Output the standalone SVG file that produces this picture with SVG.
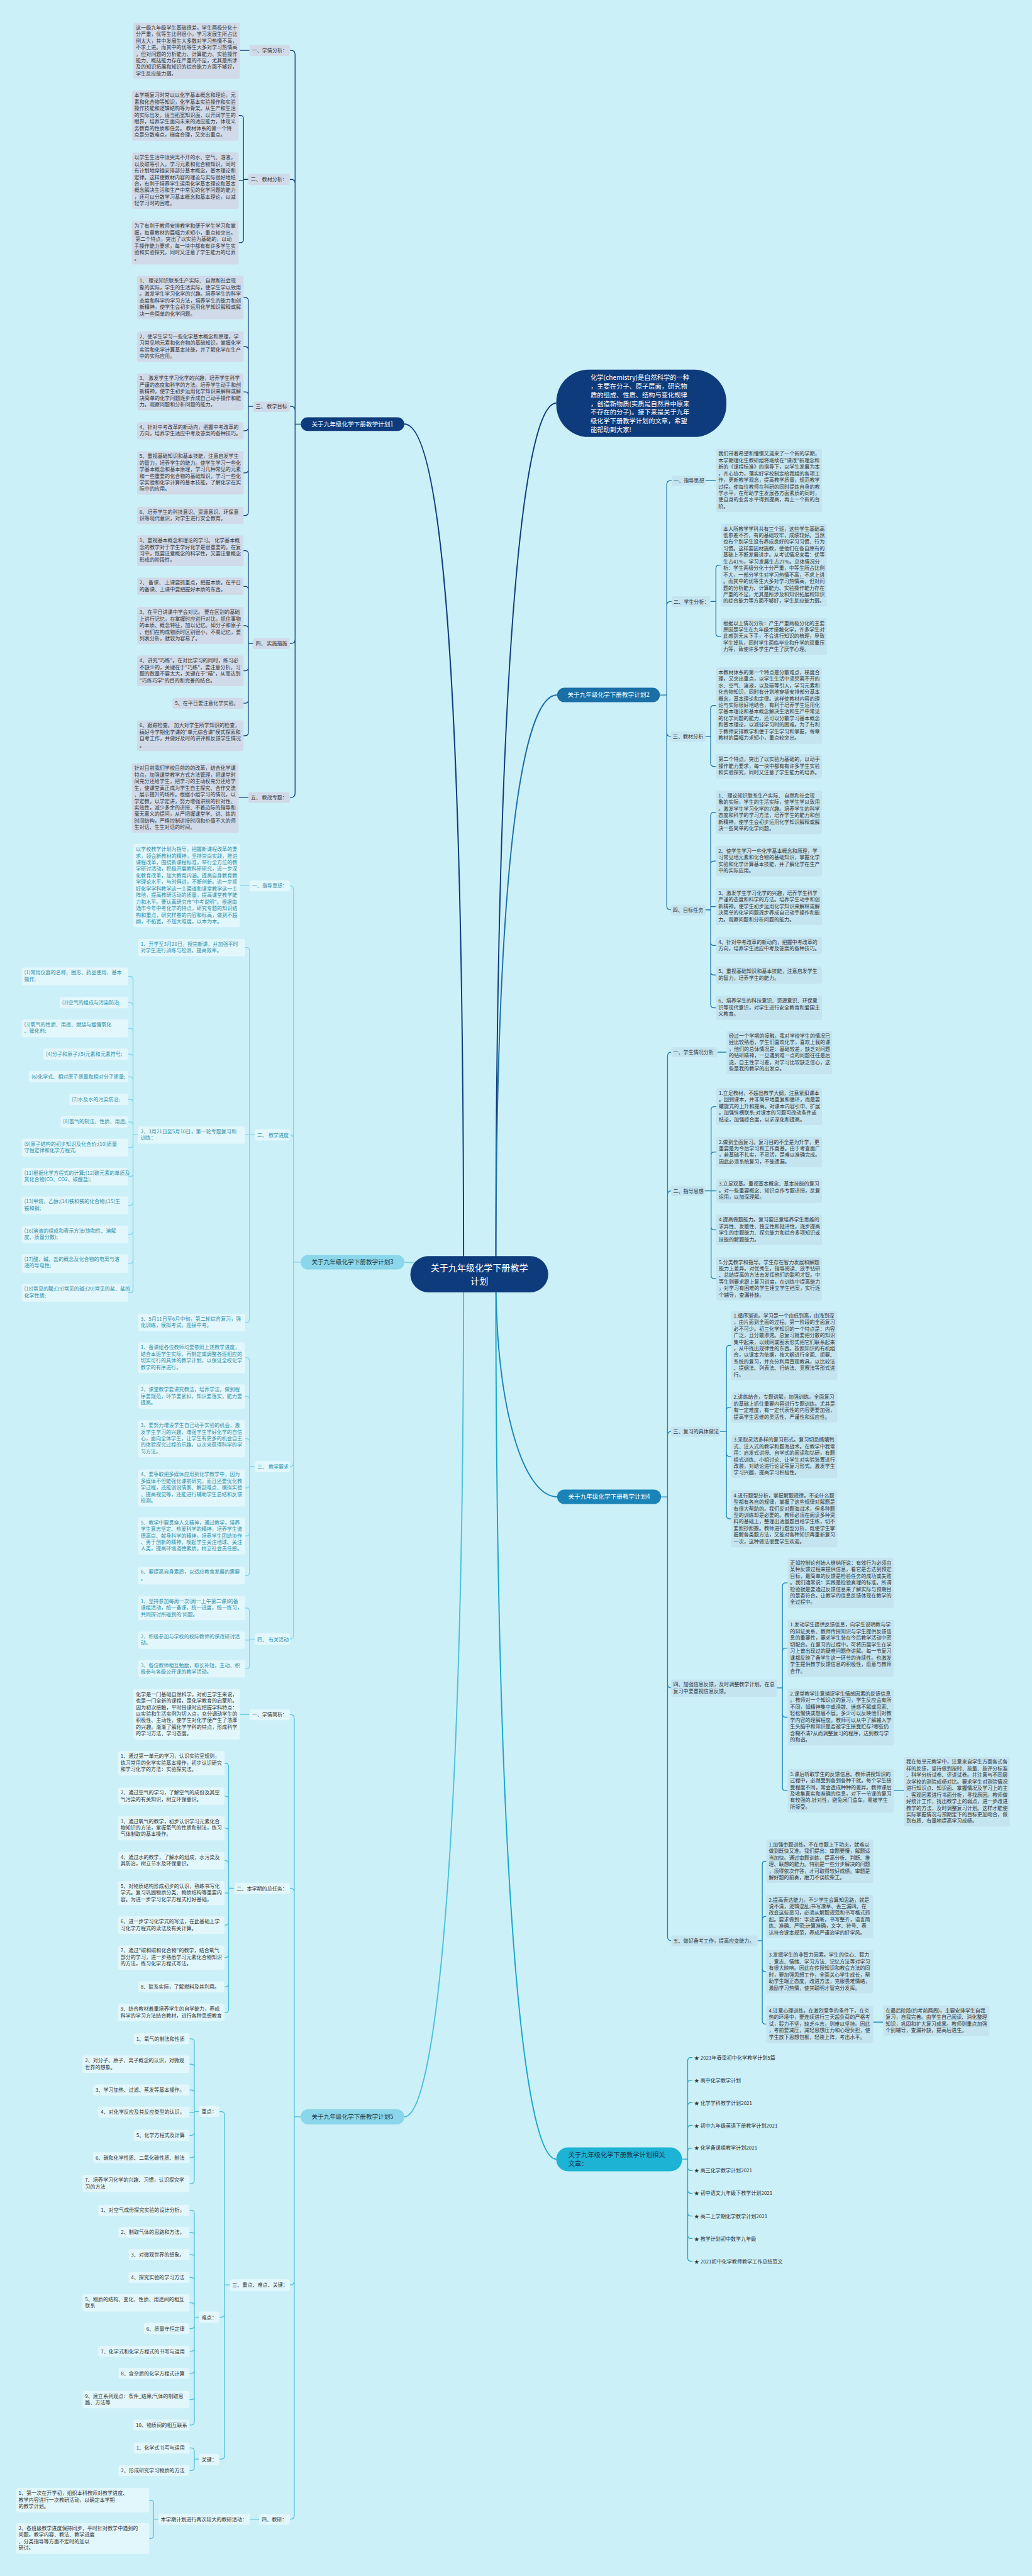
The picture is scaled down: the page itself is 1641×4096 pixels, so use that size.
<svg xmlns="http://www.w3.org/2000/svg" width="1641" height="4096" viewBox="0 0 1641 4096">
<style>
text{font-family:"Noto Sans CJK SC","Noto Sans",sans-serif;font-size:12.6px;fill:#333}
.q{fill:#2d8fa8}
.w{fill:#fff}
.dk{fill:#17364d}
.n{font-size:15px}
.c{font-size:22px}
.m{font-size:16px}
.mid{text-anchor:middle}
.a1{fill:#d1dae8}
.a2{fill:#c4e4f0}
.a3{fill:#e2f7fc}
.l1,.l2,.l3,.l4,.l5,.l6,.m1,.m2,.m3,.m4,.m5,.m6{fill:none;stroke-width:2}
.l1,.m1{stroke:#0e3b7b}
.l2,.m2{stroke:#1a6fa6}
.l3,.m3{stroke:#7fd3e7}
.l4,.m4{stroke:#1a84b8}
.l5,.m5{stroke:#4cc0d9}
.l6,.m6{stroke:#17a7c7}
.m1,.m2,.m3,.m4,.m5,.m6{stroke-width:3}
</style>
<rect width="1641" height="4096" fill="#ccf0f8"/>
<g transform="scale(0.641)">
<g id="connectors">
<path class="m1" d="M1230,3161C1230,1600 1300,1000 1380,1000"/>
<path class="m1" d="M1150,3161C1150,1500 1080,1052 1003,1052"/>
<path class="m2" d="M1230,3161C1230,2100 1300,1724 1382,1724"/>
<path class="m3" d="M1189,3161C1100,3161 1060,3131 1003,3131"/>
<path class="m4" d="M1230,3161C1230,3500 1300,3713 1382,3713"/>
<path class="m5" d="M1150,3161C1150,4600 1080,5251 1003,5251"/>
<path class="m6" d="M1230,3161C1230,4700 1300,5356 1380,5356"/>
<path class="l1" stroke-width="2.5" d="M746,1052H732V135Q732,125 722,125H719M746,1052H732V455Q732,445 722,445H719M746,1052H732V1018Q732,1008 722,1008H719M746,1052H732V1586Q732,1596 722,1596H719M746,1052H732V1968Q732,1978 722,1978H719"/>
<path class="l1" d="M619,125H595M616,445H604V294.5Q604,286.5 596,286.5H592M604,445V448H592M604,445V594Q604,602 596,602H592M628,1008H616V746Q616,738 608,738H604M616,1008V868Q616,860 608,860H604M616,1008V980Q616,972 608,972H604M616,1008V1060.5Q616,1068.5 608,1068.5H604M616,1008V1165Q616,1173 608,1173H604M616,1008V1270.5Q616,1278.5 608,1278.5H604M628,1596H616V1374Q616,1366 608,1366H604M616,1596V1462.5Q616,1454.5 608,1454.5H604M616,1596V1560Q616,1552 608,1552H604M616,1596V1656Q616,1664 608,1664H604M616,1596V1736.5Q616,1744.5 608,1744.5H604M616,1596V1817Q616,1825 608,1825H604M616,1978H592"/>
<path class="l3" stroke-width="2.5" d="M746,3131H728V2207Q728,2197 719,2197M746,3131H728V2825Q728,2815 719,2815M746,3131H728V3628Q728,3638 719,3638M746,3131H728V4056Q728,4066 719,4066"/>
<path class="l3" d="M619,2197H595M632,2815H619V2358.5Q619,2350.5 611,2350.5H608M619,2815H608M619,2815V3272.5Q619,3280.5 611,3280.5H608M343,2815H330V2430Q330,2422 322,2422H318M330,2815V2495Q330,2487 322,2487H318M330,2815V2559Q330,2551 322,2551H318M330,2815V2623Q330,2615 322,2615H318M330,2815V2679Q330,2671 322,2671H318M330,2815V2735Q330,2727 322,2727H318M330,2815V2791Q330,2783 322,2783H318M330,2815V2839Q330,2847 322,2847H318M330,2815V2911Q330,2919 322,2919H318M330,2815V2982Q330,2990 322,2990H318M330,2815V3054Q330,3062 322,3062H318M330,2815V3126Q330,3134 322,3134H318M330,2815V3199Q330,3207 322,3207H318M632,3638H619V3376Q619,3368 611,3368H608M619,3638V3472Q619,3464 611,3464H608M619,3638V3577Q619,3569 611,3569H608M619,3638V3683Q619,3691 611,3691H608M619,3638V3802Q619,3810 611,3810H608M619,3638V3900.5Q619,3908.5 611,3908.5H608M632,4066H619V3997Q619,3989 611,3989H608M619,4066V4068.5H608M619,4066V4131.5Q619,4139.5 611,4139.5H608"/>
<path class="l5" stroke-width="2.5" d="M746,5251H730V4263Q730,4253 720,4253H719M746,5251H730V4694Q730,4684 720,4684H719M746,5251H730V5658Q730,5668 720,5668H719M746,5251H730V6239Q730,6249 720,6249H719"/>
<path class="l5" d="M619,4253H595M581,4684H567V4382Q567,4374 559,4374H557M567,4684V4463.5Q567,4455.5 559,4455.5H557M567,4684V4543Q567,4535 559,4535H557M567,4684V4623.5Q567,4615.5 559,4615.5H557M567,4684V4696H557M567,4684V4767.5Q567,4775.5 559,4775.5H557M567,4684V4848Q567,4856 559,4856H557M567,4684V4920.5Q567,4928.5 559,4928.5H557M567,4684V4984.5Q567,4992.5 559,4992.5H557M570,5668H557V5246Q557,5238 549,5238H544M557,5668V5740Q557,5748 549,5748H544M557,5668V6092Q557,6100 549,6100H544M494,5238H482V5065.5Q482,5057.5 474,5057.5H470M482,5238V5128.5Q482,5120.5 474,5120.5H470M482,5238V5192.5Q482,5184.5 474,5184.5H470M482,5238V5239.5H470M482,5238V5289Q482,5297 474,5297H470M482,5238V5344.5Q482,5352.5 474,5352.5H470M482,5238V5408.5Q482,5416.5 474,5416.5H470M494,5748H482V5490.5Q482,5482.5 474,5482.5H470M482,5748V5545.5Q482,5537.5 474,5537.5H470M482,5748V5600.5Q482,5592.5 474,5592.5H470M482,5748V5657.5Q482,5649.5 474,5649.5H470M482,5748V5720.5Q482,5712.5 474,5712.5H470M482,5748V5768.5Q482,5776.5 474,5776.5H470M482,5748V5824.5Q482,5832.5 474,5832.5H470M482,5748V5879.5Q482,5887.5 474,5887.5H470M482,5748V5944.5Q482,5952.5 474,5952.5H470M482,5748V6007.5Q482,6015.5 474,6015.5H470M494,6100H482V6080.5Q482,6072.5 474,6072.5H470M482,6100V6120.5Q482,6128.5 474,6128.5H470M643,6249H620M393,6249H381V6210Q381,6202 373,6202H370M381,6249V6289Q381,6297 373,6297H370"/>
<path class="l2" stroke-width="2.5" d="M1637,1724H1654V1202Q1654,1192 1664,1192H1666M1637,1724H1654V1502Q1654,1492 1664,1492H1666M1637,1724H1654V1817Q1654,1827 1664,1827H1666M1637,1724H1654V2247Q1654,2257 1664,2257H1666"/>
<path class="l2" d="M1750,1192H1776M1762,1492H1776V1410Q1776,1402 1784,1402H1788M1776,1492V1571Q1776,1579 1784,1579H1788M1750,1827H1763V1758Q1763,1750 1771,1750H1776M1763,1827V1893Q1763,1901 1771,1901H1776M1750,2257H1763V2023Q1763,2015 1771,2015H1776M1763,2257V2144Q1763,2136 1771,2136H1776M1763,2257V2249H1776M1763,2257V2337.5Q1763,2345.5 1771,2345.5H1776M1763,2257V2410.5Q1763,2418.5 1771,2418.5H1776M1763,2257V2492Q1763,2500 1771,2500H1776"/>
<path class="l4" stroke-width="2.5" d="M1640,3713H1656V2620Q1656,2610 1665,2610M1640,3713H1656V2964Q1656,2954 1665,2954M1640,3713H1656V3561Q1656,3551 1665,3551M1640,3713H1656V4177Q1656,4187 1665,4187M1640,3713H1656V4804Q1656,4814 1665,4814"/>
<path class="l4" d="M1780,2610H1802M1748,2954H1764V2753Q1764,2745 1772,2745H1777M1764,2954V2866Q1764,2858 1772,2858H1777M1764,2954H1777M1764,2954V3043Q1764,3051 1772,3051H1777M1764,2954V3164Q1764,3172 1772,3172H1777M1786,3551H1802V3345.5Q1802,3337.5 1810,3337.5H1814M1802,3551V3499Q1802,3491 1810,3491H1814M1802,3551V3605Q1802,3613 1810,3613H1814M1802,3551V3759.5Q1802,3767.5 1810,3767.5H1814M1927,4187H1941V3934.5Q1941,3926.5 1949,3926.5H1954M1941,4187V4096.5Q1941,4088.5 1949,4088.5H1954M1941,4187V4251.5Q1941,4259.5 1949,4259.5H1954M1941,4187V4434Q1941,4442 1949,4442H1954M2217,4442H2242M1879,4814H1891V4625Q1891,4617 1899,4617H1901M1891,4814V4762Q1891,4754 1899,4754H1901M1891,4814V4883Q1891,4891 1899,4891H1901M1891,4814V5013Q1891,5021 1899,5021H1901M2166,5016H2191"/>
<path class="l6" d="M1692,5356H1706V5112Q1706,5104 1714,5104H1718M1706,5356V5168Q1706,5160 1714,5160H1718M1706,5356V5224Q1706,5216 1714,5216H1718M1706,5356V5280Q1706,5272 1714,5272H1718M1706,5356V5336.5Q1706,5328.5 1714,5328.5H1718M1706,5356V5376.5Q1706,5384.5 1714,5384.5H1718M1706,5356V5432.5Q1706,5440.5 1714,5440.5H1718M1706,5356V5489Q1706,5497 1714,5497H1718M1706,5356V5545Q1706,5553 1714,5553H1718M1706,5356V5601Q1706,5609 1714,5609H1718"/>
</g>

<g id="center"><rect x="1018" y="3116" width="342" height="90" rx="45" fill="#0e3b7b"/><text class="w c mid" x="1189" y="3153">关于九年级化学下册教学</text><text class="w c mid" x="1189" y="3185">计划</text></g>

<g id="intro"><rect x="1380" y="917" width="422" height="167" rx="80" fill="#0e3b7b"/>
<text class="w m" x="1465" y="942"><tspan>化学(chemistry)是自然科学的一种</tspan><tspan x="1465" dy="21.7">，主要在分子、原子层面，研究物</tspan><tspan x="1465" dy="21.7">质的组成、性质、结构与变化规律</tspan><tspan x="1465" dy="21.7">，创造新物质(实质是自然界中原来</tspan><tspan x="1465" dy="21.7">不存在的分子)。接下来是关于九年</tspan><tspan x="1465" dy="21.7">级化学下册教学计划的文章，希望</tspan><tspan x="1465" dy="21.7">能帮助到大家!</tspan></text></g>

<!-- Branch 1 -->
<g id="b1"><rect x="746" y="1035" width="257" height="34" rx="17" fill="#0e3b7b"/><text class="w n mid" x="874.5" y="1057">关于九年级化学下册教学计划1</text></g>
<g id="b1-l1"><rect class="a1" x="619" y="112" width="100" height="27" rx="5"/><text x="625" y="130">一、学情分析：</text></g>
<g id="b1-t1"><rect class="a1" x="331" y="56" width="264" height="140" rx="5"/><text x="337" y="73"><tspan>这一级九年级学生基础很差，学生两极分化十</tspan><tspan x="337" dy="16.3">分严重，优等生比例很小，学习发展生所占比</tspan><tspan x="337" dy="16.3">例太大，其中发展生大多数对学习热情不高，</tspan><tspan x="337" dy="16.3">不求上进。而其中的优等生大多对学习热情高</tspan><tspan x="337" dy="16.3">，但对问题的分析能力、计算能力、实验操作</tspan><tspan x="337" dy="16.3">能力、概括能力存在严重的不足，尤其是所涉</tspan><tspan x="337" dy="16.3">及的知识拓展和知识的综合能力方面不够好，</tspan><tspan x="337" dy="16.3">学生反应能力弱。</tspan></text></g>
<g id="b1-l2"><rect class="a1" x="616" y="431" width="103" height="28" rx="5"/><text x="622" y="450">二、 教材分析：</text></g>
<g id="b1-t2a"><rect class="a1" x="327" y="224" width="265" height="125" rx="5"/><text x="333" y="241"><tspan>本学期复习时常以以化学基本概念和理论，元</tspan><tspan x="333" dy="16.3">素和化合物等知识，化学基本实验操作和实验</tspan><tspan x="333" dy="16.3">操作技能和逻辑结构等为骨架。从生产和生活</tspan><tspan x="333" dy="16.3">的实际出发，适当拓宽知识面，以开阔学生的</tspan><tspan x="333" dy="16.3">眼界，培养学生面向未来的适应能力，体现义</tspan><tspan x="333" dy="16.3">务教育的性质和任务。 教材体系的第一个特</tspan><tspan x="333" dy="16.3">点是分散难点，梯度合理，又突出重点。</tspan></text></g>
<g id="b1-t2b"><rect class="a1" x="327" y="378" width="265" height="140" rx="5"/><text x="333" y="395"><tspan>以学生生活中须臾离不开的水、空气、溶液，</tspan><tspan x="333" dy="16.3">以及碳等引入，学习元素和化合物知识，同时</tspan><tspan x="333" dy="16.3">有计划地穿插安排部分基本概念，基本理论和</tspan><tspan x="333" dy="16.3">定律。这样使教材内容的理论与实际很好地结</tspan><tspan x="333" dy="16.3">合，有利于培养学生运用化学基本理论和基本</tspan><tspan x="333" dy="16.3">概念解决生活和生产中常见的化学问题的能力</tspan><tspan x="333" dy="16.3">，还可以分散学习基本概念和基本理论，以减</tspan><tspan x="333" dy="16.3">轻学习时的困难。</tspan></text></g>
<g id="b1-t2c"><rect class="a1" x="327" y="548" width="265" height="108" rx="5"/><text x="333" y="565"><tspan>为了有利于教师安排教学和便于学生学习和掌</tspan><tspan x="333" dy="16.3">握，每章教材的篇幅力求短小，重点较突出。</tspan><tspan x="333" dy="16.3"> 第二个特点，突出了以实验为基础的，以动</tspan><tspan x="333" dy="16.3">手操作能力要求，每一块中都有有许多学生实</tspan><tspan x="333" dy="16.3">验和实验探究，同时又注意了学生能力的培养</tspan><tspan x="333" dy="16.3">。</tspan></text></g>
<g id="b1-l3"><rect class="a1" x="628" y="996" width="91" height="26" rx="5"/><text x="634" y="1013">三、 教学目标</text></g>
<g id="b1-t3a"><rect class="a1" x="340" y="684" width="264" height="108" rx="5"/><text x="346" y="701"><tspan>1、 理论知识联系生产实际、 自然和社会现</tspan><tspan x="346" dy="16.3">象的实际，学生的生活实际，使学生学以致用</tspan><tspan x="346" dy="16.3">。激发学生学习化学的兴趣。培养学生的科学</tspan><tspan x="346" dy="16.3">态度和科学的学习方法，培养学生的能力和创</tspan><tspan x="346" dy="16.3">新精神，使学生会初步运用化学知识解释或解</tspan><tspan x="346" dy="16.3">决一些简单的化学问题。</tspan></text></g>
<g id="b1-t3b"><rect class="a1" x="340" y="822" width="264" height="76" rx="5"/><text x="346" y="839"><tspan>2、使学生学习一些化学基本概念和原理，学</tspan><tspan x="346" dy="16.3">习常见地元素和化合物的基础知识，掌握化学</tspan><tspan x="346" dy="16.3">实验和化学计算基本技能，并了解化学在生产</tspan><tspan x="346" dy="16.3">中的实际应用。</tspan></text></g>
<g id="b1-t3c"><rect class="a1" x="340" y="926" width="264" height="92" rx="5"/><text x="346" y="943"><tspan>3、 激发学生学习化学的兴趣，培养学生科学</tspan><tspan x="346" dy="16.3">严谨的态度和科学的方法。培养学生动手和创</tspan><tspan x="346" dy="16.3">新精神。使学生初步运用化学知识来解释或解</tspan><tspan x="346" dy="16.3">决简单的化学问题逐步养成自己动手操作和能</tspan><tspan x="346" dy="16.3">力。观察问题和分析问题的能力。</tspan></text></g>
<g id="b1-t3d"><rect class="a1" x="340" y="1047" width="264" height="43" rx="5"/><text x="346" y="1064"><tspan>4、针对中考改革的新动向，把握中考改革的</tspan><tspan x="346" dy="16.3">方向，培养学生适应中考及答案的各种技巧。</tspan></text></g>
<g id="b1-t3e"><rect class="a1" x="340" y="1119" width="264" height="108" rx="5"/><text x="346" y="1136"><tspan>5、重视基础知识和基本技能，注意启发学生</tspan><tspan x="346" dy="16.3">的智力，培养学生的能力。使学生学习一些化</tspan><tspan x="346" dy="16.3">学基本概念和基本原理，学习几种常见的元素</tspan><tspan x="346" dy="16.3">和一些重要的化合物的基础知识，学习一些化</tspan><tspan x="346" dy="16.3">学实验和化学计算的基本技能，了解化学在实</tspan><tspan x="346" dy="16.3">际中的应用。</tspan></text></g>
<g id="b1-t3f"><rect class="a1" x="340" y="1257" width="264" height="43" rx="5"/><text x="346" y="1274"><tspan>6、培养学生的科技意识、资源意识、环保意</tspan><tspan x="346" dy="16.3">识等现代意识，对学生进行安全教育。</tspan></text></g>
<g id="b1-l4"><rect class="a1" x="628" y="1583" width="91" height="27" rx="5"/><text x="634" y="1601">四、 实施措施</text></g>
<g id="b1-t4a"><rect class="a1" x="340" y="1328" width="264" height="76" rx="5"/><text x="346" y="1345"><tspan>1、重视基本概念和理论的学习。 化学基本概</tspan><tspan x="346" dy="16.3">念的教学对于学生学好化学是很重要的。在复</tspan><tspan x="346" dy="16.3">习中，既要注意概念的科学性，又要注意概念</tspan><tspan x="346" dy="16.3">形成的阶段性。</tspan></text></g>
<g id="b1-t4b"><rect class="a1" x="340" y="1433" width="264" height="43" rx="5"/><text x="346" y="1450"><tspan>2、 备课、 上课要抓重点，把握本质。在平日</tspan><tspan x="346" dy="16.3">的备课、上课中要把握好本质的东西，</tspan></text></g>
<g id="b1-t4c"><rect class="a1" x="340" y="1506" width="264" height="92" rx="5"/><text x="346" y="1523"><tspan>3、在平日讲课中学会对比。 要在区别的基础</tspan><tspan x="346" dy="16.3">上进行记忆，在掌握时应进行对比，抓住事物</tspan><tspan x="346" dy="16.3">的本质、概念特征，加以记忆。如分子和原子</tspan><tspan x="346" dy="16.3">、他们在构成物质时区别很小，不易记忆，要</tspan><tspan x="346" dy="16.3">列表分析，就较为容易了。</tspan></text></g>
<g id="b1-t4d"><rect class="a1" x="340" y="1626" width="264" height="76" rx="5"/><text x="346" y="1643"><tspan>4、讲究"巧练"。在对比学习的同时，练习必</tspan><tspan x="346" dy="16.3">不缺少的，关键在于"巧练"，要注意分析，习</tspan><tspan x="346" dy="16.3">题的数量不要太大，关键在于"精"，从而达到</tspan><tspan x="346" dy="16.3">"巧练巧学"的目的和完善的结合。</tspan></text></g>
<g id="b1-t4e"><rect class="a1" x="428" y="1731" width="176" height="27" rx="5"/><text x="434" y="1749">5、在平日要注意化学实验。</text></g>
<g id="b1-t4f"><rect class="a1" x="340" y="1787" width="264" height="76" rx="5"/><text x="346" y="1804"><tspan>6、跟踪检查。 加大对学生所学知识的检查，</tspan><tspan x="346" dy="16.3">搞好今学期化学课的"单元综合课"模式探索和</tspan><tspan x="346" dy="16.3">自考工作，并做好及时的讲评和反馈学生情况</tspan><tspan x="346" dy="16.3">。</tspan></text></g>
<g id="b1-l5"><rect class="a1" x="616" y="1965" width="103" height="27" rx="5"/><text x="622" y="1983">五、 教改专题：</text></g>
<g id="b1-t5"><rect class="a1" x="327" y="1893" width="265" height="173" rx="5"/><text x="333" y="1910"><tspan>针对目前我们学校目前的的改革，结合化学课</tspan><tspan x="333" dy="16.3">特点，加强课堂教学方式方法管理，把课堂时</tspan><tspan x="333" dy="16.3">间充分还给学生，把学习的主动权充分还给学</tspan><tspan x="333" dy="16.3">生，使课堂真正成为学生自主探究、合作交流</tspan><tspan x="333" dy="16.3">、展示提升的场所。根据小组学习的情况，以</tspan><tspan x="333" dy="16.3">学定教，以学定讲，努力增强讲授的针对性、</tspan><tspan x="333" dy="16.3">实效性，减少多余的讲授、不着边际的指导和</tspan><tspan x="333" dy="16.3">毫无意义的提问，从严把握课堂学、讲、练的</tspan><tspan x="333" dy="16.3">时间结构，严格控制讲授时间和价值不大的师</tspan><tspan x="333" dy="16.3">生对话、生生对话的时间。</tspan></text></g>

<!-- Branch 2 -->
<g id="b2"><rect x="1382" y="1706" width="255" height="36" rx="18" fill="#1a6fa6"/><text class="w n mid" x="1509.5" y="1729">关于九年级化学下册教学计划2</text></g>
<g id="b2-l1"><rect class="a2" x="1666" y="1180" width="84" height="25" rx="5"/><text x="1671" y="1197">一、指导思想</text></g>
<g id="b2-t1"><rect class="a2" x="1776" y="1113" width="263" height="157" rx="5"/><text x="1782" y="1130"><tspan>我们带着希望和憧憬又迎来了一个新的学期，</tspan><tspan x="1782" dy="16.3">本学期理化生教研组将继续在"课改"新理念和</tspan><tspan x="1782" dy="16.3">新的《课程标准》的指导下，以学生发展为本</tspan><tspan x="1782" dy="16.3">，齐心协力，落实好学校制定给我组的各项工</tspan><tspan x="1782" dy="16.3">作，更新教学观念，提高教学质量，规范教学</tspan><tspan x="1782" dy="16.3">过程。使每位教师在科研的同时提炼自身的教</tspan><tspan x="1782" dy="16.3">学水平，在帮助学生发展各方面素质的同时，</tspan><tspan x="1782" dy="16.3">使自身的业务水平得到提高，再上一个新的台</tspan><tspan x="1782" dy="16.3">阶。</tspan></text></g>
<g id="b2-l2"><rect class="a2" x="1666" y="1479" width="96" height="27" rx="5"/><text x="1671" y="1497">二、学生分析：</text></g>
<g id="b2-t2a"><rect class="a2" x="1788" y="1299" width="263" height="206" rx="5"/><text x="1794" y="1316"><tspan>本人所教学学科共有三个班，这些学生基础高</tspan><tspan x="1794" dy="16.3">低参差不齐，有的基础较牢，成绩较好。当然</tspan><tspan x="1794" dy="16.3">也有个别学生没有养成良好的学习习惯、行为</tspan><tspan x="1794" dy="16.3">习惯。这样要因材施教，使他们在各自原有的</tspan><tspan x="1794" dy="16.3">基础上不断发展进步。从考试情况来看：优等</tspan><tspan x="1794" dy="16.3">生占41%，学习发展生占27%。总体情况分</tspan><tspan x="1794" dy="16.3">析：学生两极分化十分严重，中等生所占比例</tspan><tspan x="1794" dy="16.3">不大，一部分学生对学习热情不高，不求上进</tspan><tspan x="1794" dy="16.3">。而其中的优等生大多对学习热情高，但对问</tspan><tspan x="1794" dy="16.3">题的分析能力、计算能力、实验操作能力存在</tspan><tspan x="1794" dy="16.3">严重的不足，尤其是所涉及和知识拓展和知识</tspan><tspan x="1794" dy="16.3">的综合能力等方面不够好，学生反应能力弱。</tspan></text></g>
<g id="b2-t2b"><rect class="a2" x="1788" y="1533" width="263" height="92" rx="5"/><text x="1794" y="1550"><tspan>根据以上情况分析：产生严重两极分化的主要</tspan><tspan x="1794" dy="16.3">原因是学生在九年级才接触化学，许多学生对</tspan><tspan x="1794" dy="16.3">此感到无从下手，不会进行知识的梳理，导致</tspan><tspan x="1794" dy="16.3">学生掉队，同时学生面临毕业和升学的双重压</tspan><tspan x="1794" dy="16.3">力等，致使许多学生产生了厌学心理。</tspan></text></g>
<g id="b2-l3"><rect class="a2" x="1664" y="1814" width="86" height="26" rx="5"/><text x="1669" y="1832">三、教材分析</text></g>
<g id="b2-t3a"><rect class="a2" x="1776" y="1655" width="263" height="190" rx="5"/><text x="1782" y="1672"><tspan>本教材体系的第一个特点是分散难点，梯度合</tspan><tspan x="1782" dy="16.3">理，又突出重点，以学生生活中须臾离不开的</tspan><tspan x="1782" dy="16.3">水、空气、溶液，以及碳等引入，学习元素和</tspan><tspan x="1782" dy="16.3">化合物知识，同时有计划地穿插安排部分基本</tspan><tspan x="1782" dy="16.3">概念，基本理论和定律。这样使教材内容的理</tspan><tspan x="1782" dy="16.3">论与实际很好地结合，有利于培养学生运用化</tspan><tspan x="1782" dy="16.3">学基本理论和基本概念解决生活和生产中常见</tspan><tspan x="1782" dy="16.3">的化学问题的能力，还可以分散学习基本概念</tspan><tspan x="1782" dy="16.3">和基本理论，以减轻学习时的困难。为了有利</tspan><tspan x="1782" dy="16.3">于教师安排教学和便于学生学习和掌握，每章</tspan><tspan x="1782" dy="16.3">教材的篇幅力求短小，重点较突出。</tspan></text></g>
<g id="b2-t3b"><rect class="a2" x="1776" y="1871" width="263" height="60" rx="5"/><text x="1782" y="1888"><tspan>第二个特点，突出了以实验为基础的，以动手</tspan><tspan x="1782" dy="16.3">操作能力要求，每一块中都有有许多学生实验</tspan><tspan x="1782" dy="16.3">和实验探究，同时又注意了学生能力的培养。</tspan></text></g>
<g id="b2-l4"><rect class="a2" x="1664" y="2244" width="86" height="27" rx="5"/><text x="1669" y="2262">四、目标任务</text></g>
<g id="b2-t4a"><rect class="a2" x="1776" y="1961" width="263" height="108" rx="5"/><text x="1782" y="1978"><tspan>1、 理论知识联系生产实际、 自然和社会现</tspan><tspan x="1782" dy="16.3">象的实际，学生的生活实际，使学生学以致用</tspan><tspan x="1782" dy="16.3">。激发学生学习化学的兴趣。培养学生的科学</tspan><tspan x="1782" dy="16.3">态度和科学的学习方法，培养学生的能力和创</tspan><tspan x="1782" dy="16.3">新精神，使学生会初步运用化学知识解释或解</tspan><tspan x="1782" dy="16.3">决一些简单的化学问题。</tspan></text></g>
<g id="b2-t4b"><rect class="a2" x="1776" y="2098" width="263" height="76" rx="5"/><text x="1782" y="2115"><tspan>2、使学生学习一些化学基本概念和原理，学</tspan><tspan x="1782" dy="16.3">习常见地元素和化合物的基础知识，掌握化学</tspan><tspan x="1782" dy="16.3">实验和化学计算基本技能，并了解化学在生产</tspan><tspan x="1782" dy="16.3">中的实际应用。</tspan></text></g>
<g id="b2-t4c"><rect class="a2" x="1776" y="2203" width="263" height="92" rx="5"/><text x="1782" y="2220"><tspan>3、激发学生学习化学的兴趣，培养学生科学</tspan><tspan x="1782" dy="16.3">严谨的态度和科学的方法。培养学生动手和创</tspan><tspan x="1782" dy="16.3">新精神。使学生初步运用化学知识来解释或解</tspan><tspan x="1782" dy="16.3">决简单的化学问题逐步养成自己动手操作和能</tspan><tspan x="1782" dy="16.3">力。观察问题和分析问题的能力。</tspan></text></g>
<g id="b2-t4d"><rect class="a2" x="1776" y="2324" width="263" height="43" rx="5"/><text x="1782" y="2341"><tspan>4、针对中考改革的新动向，把握中考改革的</tspan><tspan x="1782" dy="16.3">方向，培养学生适应中考及答案的各种技巧。</tspan></text></g>
<g id="b2-t4e"><rect class="a2" x="1776" y="2397" width="263" height="43" rx="5"/><text x="1782" y="2414"><tspan>5、重视基础知识和基本技能，注意启发学生</tspan><tspan x="1782" dy="16.3">的智力，培养学生的能力。</tspan></text></g>
<g id="b2-t4f"><rect class="a2" x="1776" y="2470" width="263" height="60" rx="5"/><text x="1782" y="2487"><tspan>6、培养学生的科技意识、资源意识、环保意</tspan><tspan x="1782" dy="16.3">识等现代意识，对学生进行安全教育和爱国主</tspan><tspan x="1782" dy="16.3">义教育。</tspan></text></g>

<!-- Branch 3 -->
<g id="b3"><rect x="746" y="3113" width="257" height="36" rx="18" fill="#8ad6ea"/><text class="dk n mid" x="874.5" y="3136">关于九年级化学下册教学计划3</text></g>
<g id="b3-l1"><rect class="a3" x="619" y="2184" width="100" height="27" rx="5"/><text class="q" x="625" y="2202">一、指导思想：</text></g>
<g id="b3-t1"><rect class="a3" x="331" y="2094" width="264" height="206" rx="5"/><text class="q" x="337" y="2111"><tspan>以学校教学计划为指导，把握新课程改革的要</tspan><tspan x="337" dy="16.3">求，领会新教材的精神，坚持崇尚实践，推进</tspan><tspan x="337" dy="16.3">课程改革，围绕新课程标准，举行全方位的教</tspan><tspan x="337" dy="16.3">学研讨活动，积极开展教科研研究，进一步深</tspan><tspan x="337" dy="16.3">化教育改革，加大教育内涵。提高自身教育教</tspan><tspan x="337" dy="16.3">学理论水平，与时俱进，不断创新。进一步抓</tspan><tspan x="337" dy="16.3">好化学学科教学这一主渠道和课堂教学这一主</tspan><tspan x="337" dy="16.3">阵地，提高教研活动的质量，提高课堂教学能</tspan><tspan x="337" dy="16.3">力和水平。要认真研究市"中考说明"。根据南</tspan><tspan x="337" dy="16.3">通市今年中考化学的特点，研究专题的知识结</tspan><tspan x="337" dy="16.3">构和重点，研究样卷的内容和标高，做到不超</tspan><tspan x="337" dy="16.3">纲，不拓宽，不加大难度，以本为本。</tspan></text></g>
<g id="b3-l2"><rect class="a3" x="632" y="2801" width="87" height="28" rx="5"/><text class="q" x="638" y="2820">二、 教学进度</text></g>
<g id="b3-p1"><rect class="a3" x="343" y="2329" width="265" height="43" rx="5"/><text class="q" x="349" y="2346"><tspan>1、开学至3月20日，授完新课，并加强平时</tspan><tspan x="349" dy="16.3">对学生进行训练与检测，提高效率。</tspan></text></g>
<g id="b3-p2"><rect class="a3" x="343" y="2794" width="265" height="43" rx="5"/><text class="q" x="349" y="2811"><tspan>2、3月21日至5月10日，第一轮专题复习和</tspan><tspan x="349" dy="16.3">训练：</tspan></text></g>
<g id="b3-p3"><rect class="a3" x="343" y="3259" width="265" height="43" rx="5"/><text class="q" x="349" y="3276"><tspan>3、5月11日至6月中旬，第二轮综合复习，强</tspan><tspan x="349" dy="16.3">化训练，模拟考试，迎接中考。</tspan></text></g>
<g id="b3-c1"><rect class="a3" x="54" y="2400" width="264" height="44" rx="5"/><text class="q" x="60" y="2417"><tspan>(1)常用仪器的名称、图形、药品使用、基本</tspan><tspan x="60" dy="16.3">操作;</tspan></text></g>
<g id="b3-c2"><rect class="a3" x="148" y="2473" width="170" height="28" rx="5"/><text class="q" x="154" y="2491">(2)空气的组成与污染防治;</text></g>
<g id="b3-c3"><rect class="a3" x="54" y="2529" width="264" height="44" rx="5"/><text class="q" x="60" y="2546"><tspan>(3)氧气的性质、用途、燃烧与缓慢氧化</tspan><tspan x="60" dy="16.3">、催化剂;</tspan></text></g>
<g id="b3-c4"><rect class="a3" x="108" y="2601" width="210" height="28" rx="5"/><text class="q" x="114" y="2619">(4)分子和原子;(5)元素和元素符号;</text></g>
<g id="b3-c5"><rect class="a3" x="72" y="2657" width="246" height="28" rx="5"/><text class="q" x="78" y="2675">(6)化学式、相对原子质量和相对分子质量;</text></g>
<g id="b3-c6"><rect class="a3" x="172" y="2713" width="146" height="28" rx="5"/><text class="q" x="178" y="2731">(7)水及水的污染防治;</text></g>
<g id="b3-c7"><rect class="a3" x="150" y="2769" width="168" height="28" rx="5"/><text class="q" x="156" y="2787">(8)氢气的制法、性质、用途;</text></g>
<g id="b3-c8"><rect class="a3" x="54" y="2825" width="264" height="44" rx="5"/><text class="q" x="60" y="2842"><tspan>(9)原子结构的初步知识及化合价;(10)质量</tspan><tspan x="60" dy="16.3">守恒定律和化学方程式;</tspan></text></g>
<g id="b3-c9"><rect class="a3" x="54" y="2897" width="264" height="44" rx="5"/><text class="q" x="60" y="2914"><tspan>(11)根据化学方程式的计算;(12)碳元素的单质及</tspan><tspan x="60" dy="16.3">其化合物(CO、CO2、碳酸盐);</tspan></text></g>
<g id="b3-c10"><rect class="a3" x="54" y="2968" width="264" height="44" rx="5"/><text class="q" x="60" y="2985"><tspan>(13)甲烷、乙醇;(14)铁和铁的化合物;(15)生</tspan><tspan x="60" dy="16.3">铁和钢;</tspan></text></g>
<g id="b3-c11"><rect class="a3" x="54" y="3040" width="264" height="44" rx="5"/><text class="q" x="60" y="3057"><tspan>(16)溶液的组成和表示方法(饱和性、溶解</tspan><tspan x="60" dy="16.3">度、质量分数);</tspan></text></g>
<g id="b3-c12"><rect class="a3" x="54" y="3111" width="264" height="46" rx="5"/><text class="q" x="60" y="3128"><tspan>(17)酸、碱、盐的概念及化合物的电离与溶</tspan><tspan x="60" dy="16.3">液的导电性;</tspan></text></g>
<g id="b3-c13"><rect class="a3" x="54" y="3185" width="264" height="44" rx="5"/><text class="q" x="60" y="3202"><tspan>(18)常见的酸;(19)常见的碱;(20)常见的盐、盐的</tspan><tspan x="60" dy="16.3">化学性质;</tspan></text></g>
<g id="b3-l3"><rect class="a3" x="632" y="3624" width="87" height="28" rx="5"/><text class="q" x="638" y="3643">三、 教学要求</text></g>
<g id="b3-r1"><rect class="a3" x="343" y="3330" width="265" height="76" rx="5"/><text class="q" x="349" y="3347"><tspan>1、备课组各位教师均要参照上述教学进度，</tspan><tspan x="349" dy="16.3">结合本班学生实际，再制定或调整各班相应的</tspan><tspan x="349" dy="16.3">切实可行的具体的教学计划，以保证全校化学</tspan><tspan x="349" dy="16.3">教学的有序进行。</tspan></text></g>
<g id="b3-r2"><rect class="a3" x="343" y="3434" width="265" height="60" rx="5"/><text class="q" x="349" y="3451"><tspan>2、课堂教学要讲究教法，培养学法，做到程</tspan><tspan x="349" dy="16.3">序要规范，环节要紧扣，知识要落实，能力要</tspan><tspan x="349" dy="16.3">提高。</tspan></text></g>
<g id="b3-r3"><rect class="a3" x="343" y="3523" width="265" height="92" rx="5"/><text class="q" x="349" y="3540"><tspan>3、要努力增设学生自己动手实验的机会，激</tspan><tspan x="349" dy="16.3">发学生学习的兴趣，增强学生学好化学的自信</tspan><tspan x="349" dy="16.3">心，面向全体学生，让学生有更多的机会自主</tspan><tspan x="349" dy="16.3">的体验探究过程的乐趣，以次来获得科学的学</tspan><tspan x="349" dy="16.3">习方法。</tspan></text></g>
<g id="b3-r4"><rect class="a3" x="343" y="3645" width="265" height="92" rx="5"/><text class="q" x="349" y="3662"><tspan>4、要争取把多媒体应用到化学教学中，因为</tspan><tspan x="349" dy="16.3">多媒体不但能强化课前研究，而且还要优化教</tspan><tspan x="349" dy="16.3">学过程，还能创设情景、解剖难点、模拟实验</tspan><tspan x="349" dy="16.3">、提高视觉等，还能进行辅助学生总结和反馈</tspan><tspan x="349" dy="16.3">检测。</tspan></text></g>
<g id="b3-r5"><rect class="a3" x="343" y="3764" width="265" height="92" rx="5"/><text class="q" x="349" y="3781"><tspan>5、教学中要贯穿人文精神，通过教学，培养</tspan><tspan x="349" dy="16.3">学生意志坚定、热爱科学的精神，培养学生道</tspan><tspan x="349" dy="16.3">德高尚、献身科学的精神，培养学生团结协作</tspan><tspan x="349" dy="16.3">、勇于创新的精神，唤起学生关注地球、关注</tspan><tspan x="349" dy="16.3">人类，提高环境道德素质，树立社会责任感。</tspan></text></g>
<g id="b3-r6"><rect class="a3" x="343" y="3887" width="265" height="43" rx="5"/><text class="q" x="349" y="3904"><tspan>6、要提高自身素质，以适应教育发展的需要</tspan><tspan x="349" dy="16.3">。</tspan></text></g>
<g id="b3-l4"><rect class="a3" x="632" y="4052" width="87" height="28" rx="5"/><text class="q" x="638" y="4071">四、 有关活动</text></g>
<g id="b3-a1"><rect class="a3" x="343" y="3959" width="265" height="60" rx="5"/><text class="q" x="349" y="3976"><tspan>1、坚持参加每周一次(周一上午第二课)的备</tspan><tspan x="349" dy="16.3">课组活动，统一备课，统一进度，统一练习，</tspan><tspan x="349" dy="16.3">共同探讨所碰到的'问题。</tspan></text></g>
<g id="b3-a2"><rect class="a3" x="343" y="4047" width="265" height="43" rx="5"/><text class="q" x="349" y="4064"><tspan>2、积极参加与学校的校际教师的课改研讨活</tspan><tspan x="349" dy="16.3">动。</tspan></text></g>
<g id="b3-a3"><rect class="a3" x="343" y="4118" width="265" height="43" rx="5"/><text class="q" x="349" y="4135"><tspan>3、各位教师相互勉励，取长补短，主动、积</tspan><tspan x="349" dy="16.3">极参与各级公开课的教学活动。</tspan></text></g>

<!-- Branch 4 -->
<g id="b4"><rect x="1382" y="3695" width="258" height="36" rx="18" fill="#1a84b8"/><text class="w n mid" x="1511" y="3718">关于九年级化学下册教学计划4</text></g>
<g id="b4-l1"><rect class="a2" x="1665" y="2598" width="115" height="25" rx="5"/><text x="1670" y="2615">一、学生情况分析</text></g>
<g id="b4-t1"><rect class="a2" x="1802" y="2557" width="262" height="108" rx="5"/><text x="1808" y="2574"><tspan>经过一个学期的接触，我对学校学生的情况已</tspan><tspan x="1808" dy="16.3">经比较熟悉，学生们喜欢化学，喜欢上我的课</tspan><tspan x="1808" dy="16.3">，他们的总体情况是：基础较差，缺乏对问题</tspan><tspan x="1808" dy="16.3">的钻研精神，一旦遇到难一点的问题往往是后</tspan><tspan x="1808" dy="16.3">退，自主性学习差，对学习比较缺乏信心，这</tspan><tspan x="1808" dy="16.3">些是我的教学的出发点。</tspan></text></g>
<g id="b4-l2"><rect class="a2" x="1665" y="2942" width="83" height="25" rx="5"/><text x="1670" y="2959">二、指导思想</text></g>
<g id="b4-z1"><rect class="a2" x="1777" y="2699" width="262" height="92" rx="5"/><text x="1783" y="2716"><tspan>1.立足教材，不超出教学大纲，注意紧扣课本</tspan><tspan x="1783" dy="16.3">。回到课本，并非简单地重复和循环，而是要</tspan><tspan x="1783" dy="16.3">螺旋式的上升和提高。对课本内容引申、扩展</tspan><tspan x="1783" dy="16.3">。加强纵横联系;对课本的习题可改动条件或</tspan><tspan x="1783" dy="16.3">结论，加强综合度，以求深化和提高。</tspan></text></g>
<g id="b4-z2"><rect class="a2" x="1777" y="2820" width="262" height="76" rx="5"/><text x="1783" y="2837"><tspan>2.做到全面复习。复习目的不全是为升学，更</tspan><tspan x="1783" dy="16.3">重要是为今后学习和工作奠基。由于考查面广</tspan><tspan x="1783" dy="16.3">，若基础不扎实，不灵活，是难以准确完成。</tspan><tspan x="1783" dy="16.3">因此必须系统复习，不能遗漏。</tspan></text></g>
<g id="b4-z3"><rect class="a2" x="1777" y="2924" width="262" height="60" rx="5"/><text x="1783" y="2941"><tspan>3.立足双基。重视基本概念、基本技能的复习</tspan><tspan x="1783" dy="16.3">。对一些重要概念、知识点作专题讲授，反复</tspan><tspan x="1783" dy="16.3">运用，以加深理解。</tspan></text></g>
<g id="b4-z4"><rect class="a2" x="1777" y="3013" width="262" height="76" rx="5"/><text x="1783" y="3030"><tspan>4.提高做题能力。复习要注意培养学生思维的</tspan><tspan x="1783" dy="16.3">求异性、发散性、独立性和批评性，逐步提高</tspan><tspan x="1783" dy="16.3">学生的审题能力、探究能力和综合多项知识或</tspan><tspan x="1783" dy="16.3">技能的解题能力。</tspan></text></g>
<g id="b4-z5"><rect class="a2" x="1777" y="3118" width="262" height="108" rx="5"/><text x="1783" y="3135"><tspan>5.分类教学和指导。学生存在智力发展和解题</tspan><tspan x="1783" dy="16.3">能力上差异。对优秀生，指导阅读、放手钻研</tspan><tspan x="1783" dy="16.3">、总结提高的方法去发挥他们的聪明才智。中</tspan><tspan x="1783" dy="16.3">等生则要求跟上复习进度，在训练中提高能力</tspan><tspan x="1783" dy="16.3">，对学习有困难的学生建立学生档案，实行逐</tspan><tspan x="1783" dy="16.3">个辅导，查漏补缺。</tspan></text></g>
<g id="b4-l3"><rect class="a2" x="1665" y="3539" width="121" height="25" rx="5"/><text x="1670" y="3556">三、复习的具体做法</text></g>
<g id="b4-f1"><rect class="a2" x="1814" y="3251" width="263" height="173" rx="5"/><text x="1820" y="3268"><tspan>1.循序渐进。学习是一个由低到高，由浅到深</tspan><tspan x="1820" dy="16.3">，由片面到全面的过程。第一阶段的全面复习</tspan><tspan x="1820" dy="16.3">必不可少。初三化学知识的一个特点是：内容</tspan><tspan x="1820" dy="16.3">广泛，且分散渗透。总复习就要把分散的知识</tspan><tspan x="1820" dy="16.3">集中起来，以线网或图表形式把它们联系起来</tspan><tspan x="1820" dy="16.3">，从中找出规律性的东西。按照知识的有机组</tspan><tspan x="1820" dy="16.3">合，以课本为依据，按大纲进行全面、扼要、</tspan><tspan x="1820" dy="16.3">系统的复习，并充分利用直观教具，以比较法</tspan><tspan x="1820" dy="16.3">、提纲法、列表法、归纳法、竞赛法等形式进</tspan><tspan x="1820" dy="16.3">行。</tspan></text></g>
<g id="b4-f2"><rect class="a2" x="1814" y="3453" width="263" height="76" rx="5"/><text x="1820" y="3470"><tspan>2.讲练结合，专题讲解，加强训练。全面复习</tspan><tspan x="1820" dy="16.3">的基础上抓住重要内容进行专题训练。尤其是</tspan><tspan x="1820" dy="16.3">有一定难度，有一定代表性的内容更要加强，</tspan><tspan x="1820" dy="16.3">提高学生思维的灵活性、严谨性和适应性。</tspan></text></g>
<g id="b4-f3"><rect class="a2" x="1814" y="3559" width="263" height="108" rx="5"/><text x="1820" y="3576"><tspan>3.采取灵活多样的复习形式。复习切忌搞填鸭</tspan><tspan x="1820" dy="16.3">式、注入式的教学和题海战术。在教学中我常</tspan><tspan x="1820" dy="16.3">用：启发式讲授、自学式的阅读和钻研，有题</tspan><tspan x="1820" dy="16.3">组式训练、小组讨论、让学生对实验装置进行</tspan><tspan x="1820" dy="16.3">改装，对结论进行论证等复习形式。激发学生</tspan><tspan x="1820" dy="16.3">学习兴趣，提高学习积极性。</tspan></text></g>
<g id="b4-f4"><rect class="a2" x="1814" y="3697" width="263" height="141" rx="5"/><text x="1820" y="3714"><tspan>4.进行题型分析，掌握解题规律。不论什么题</tspan><tspan x="1820" dy="16.3">型都有各自的规律，掌握了这些规律对解题是</tspan><tspan x="1820" dy="16.3">有很大帮助的。我们反对题海战术，但多种题</tspan><tspan x="1820" dy="16.3">型的训练却是必要的。教师必须在阅读多种资</tspan><tspan x="1820" dy="16.3">料的基础上，整理出适量题目给学生练，切不</tspan><tspan x="1820" dy="16.3">要照抄照搬。教师进行题型分析，既使学生掌</tspan><tspan x="1820" dy="16.3">握解各类题方法，又能对各种知识再重新复习</tspan><tspan x="1820" dy="16.3">一次，这种做法很受学生欢迎。</tspan></text></g>
<g id="b4-l4"><rect class="a2" x="1665" y="4166" width="262" height="43" rx="5"/><text x="1670" y="4183"><tspan>四、加强信息反馈，及时调整教学计划。在总</tspan><tspan x="1670" dy="16.3">复习中要重视信息反馈。</tspan></text></g>
<g id="b4-h0"><rect class="a2" x="1954" y="3864" width="263" height="125" rx="5"/><text x="1960" y="3881"><tspan>正如控制论创始人维纳所说：有效行为必须由</tspan><tspan x="1960" dy="16.3">某种反馈过程来提供信息，看它是否达到预定</tspan><tspan x="1960" dy="16.3">目标，最简单的反馈是检验任务的成功或失败</tspan><tspan x="1960" dy="16.3">。我们通常说：实践是检验真理的标准。所谓</tspan><tspan x="1960" dy="16.3">检验就是要通过反馈信息来了解实际与预期目</tspan><tspan x="1960" dy="16.3">的是否符合。让教学的信息反馈体现在教学的</tspan><tspan x="1960" dy="16.3">全过程中。</tspan></text></g>
<g id="b4-h1"><rect class="a2" x="1954" y="4018" width="263" height="141" rx="5"/><text x="1960" y="4035"><tspan>1.发动学生提供反馈信息，向学生说明教与学</tspan><tspan x="1960" dy="16.3">的辩证关系、教师传授知识与学生提供反馈信</tspan><tspan x="1960" dy="16.3">息的重要性，要求学生装在今后教学活动中密</tspan><tspan x="1960" dy="16.3">切配合。在复习的过程中，可将历届学生在学</tspan><tspan x="1960" dy="16.3">习上曾出现过的疑难问题作讲解。每一节复习</tspan><tspan x="1960" dy="16.3">课都反映了备学生这一环节的连续性。也激发</tspan><tspan x="1960" dy="16.3">学生提供教学反馈信息的积极性，愿意与教师</tspan><tspan x="1960" dy="16.3">合作。</tspan></text></g>
<g id="b4-h2"><rect class="a2" x="1954" y="4189" width="263" height="141" rx="5"/><text x="1960" y="4206"><tspan>2.课堂教学注意捕捉学生情感因素的反馈信息</tspan><tspan x="1960" dy="16.3">。教师对一个知识点的复习，学生反应会有所</tspan><tspan x="1960" dy="16.3">不同，如精神集中或涣散、迷惑不解或思索、</tspan><tspan x="1960" dy="16.3">轻松愉快或愁眉不展。多少可以反映他们对教</tspan><tspan x="1960" dy="16.3">学内容的理解程度。教师可以从中了解输入学</tspan><tspan x="1960" dy="16.3">生头脑中和知识是否被学生接受贮存?哪些仍</tspan><tspan x="1960" dy="16.3">含糊不清?从而调整复习的程序，达到教与学</tspan><tspan x="1960" dy="16.3">的和谐。</tspan></text></g>
<g id="b4-h3"><rect class="a2" x="1954" y="4388" width="263" height="108" rx="5"/><text x="1960" y="4405"><tspan>3.课后听取学生的反馈信息。教师讲授知识的</tspan><tspan x="1960" dy="16.3">过程中，必然受到各到各种干扰。每个学生接</tspan><tspan x="1960" dy="16.3">受程度不同，常会造成种种的差异。教师课后</tspan><tspan x="1960" dy="16.3">及收集真实和准确的信息，对下一节课的复习</tspan><tspan x="1960" dy="16.3">有较强的.针对性，避免闭门造车，易被学生</tspan><tspan x="1960" dy="16.3">所接受。</tspan></text></g>
<g id="b4-h3a"><rect class="a2" x="2242" y="4358" width="263" height="173" rx="5"/><text x="2248" y="4375"><tspan>我在每单元教学中，注意来自学生方面各式各</tspan><tspan x="2248" dy="16.3">样的反馈，坚持做到按时、按量、按评分标准</tspan><tspan x="2248" dy="16.3">、科学分析试卷、评讲试卷。并注意与不同层</tspan><tspan x="2248" dy="16.3">次学校的测验成绩对比。要求学生对测验情况</tspan><tspan x="2248" dy="16.3">进行知识点、知识面、掌握情况及学习上的主</tspan><tspan x="2248" dy="16.3">、客观因素进行书面分析，寻找原因。教师做</tspan><tspan x="2248" dy="16.3">好统计工作，找出教学上的弱点，进一步改进</tspan><tspan x="2248" dy="16.3">教学的方法，及时调整复习计划。这样才能使</tspan><tspan x="2248" dy="16.3">实际掌握情况与预期定下的目标更加吻合，做</tspan><tspan x="2248" dy="16.3">到有质、有量地提高学习成绩。</tspan></text></g>
<g id="b4-l5"><rect class="a2" x="1665" y="4801" width="214" height="27" rx="5"/><text x="1670" y="4819">五、做好备考工作，提高应变能力。</text></g>
<g id="b4-k1"><rect class="a2" x="1901" y="4563" width="265" height="108" rx="5"/><text x="1907" y="4580"><tspan>1.加强审题训练。不在审题上下功夫，就难以</tspan><tspan x="1907" dy="16.3">做到既快又准。我们提出：审题要慢，解题适</tspan><tspan x="1907" dy="16.3">当加快。通过审题训练，提高分析、判断、推</tspan><tspan x="1907" dy="16.3">理、联想的能力。特别是一些分步解决的问题</tspan><tspan x="1907" dy="16.3">，须得依次作答，才可取得较好成绩。审题是</tspan><tspan x="1907" dy="16.3">解好题的前奏，磨刀不误砍柴工。</tspan></text></g>
<g id="b4-k2"><rect class="a2" x="1901" y="4700" width="265" height="108" rx="5"/><text x="1907" y="4717"><tspan>2.提高表达能力。不少学生会算知思路，就是</tspan><tspan x="1907" dy="16.3">说不清，逻辑混乱;书写潦草、丢三漏四。在</tspan><tspan x="1907" dy="16.3">改变这些恶习，必须从解题规范和书写格式抓</tspan><tspan x="1907" dy="16.3">起。要求做到：字迹清晰，书写整齐，语言简</tspan><tspan x="1907" dy="16.3">练、准确、严密;计算准确，文字、符号、表</tspan><tspan x="1907" dy="16.3">达符合课本规范，养成严谨治学的好学风。</tspan></text></g>
<g id="b4-k3"><rect class="a2" x="1901" y="4837" width="265" height="108" rx="5"/><text x="1907" y="4854"><tspan>3.发掘学生的非智力因素。学生的信心、毅力</tspan><tspan x="1907" dy="16.3">、意志、情绪、学习方法、记忆方法等对学习</tspan><tspan x="1907" dy="16.3">有很大映响。因此在传授知识和教会方法的同</tspan><tspan x="1907" dy="16.3">时，要加强思想工作，全面关心学生成长，帮</tspan><tspan x="1907" dy="16.3">助学生端正态度，改进方法，克服畏难情绪，</tspan><tspan x="1907" dy="16.3">激励学习热情，使其聪明才智充分发挥。</tspan></text></g>
<g id="b4-k4"><rect class="a2" x="1901" y="4975" width="265" height="92" rx="5"/><text x="1907" y="4992"><tspan>4.注意心理训练。在激烈竞争的条件下，在炎</tspan><tspan x="1907" dy="16.3">热的环境中，要连续进行三天超负荷的严格考</tspan><tspan x="1907" dy="16.3">试，毅力不坚，缺乏斗志，则难以坚持。因此</tspan><tspan x="1907" dy="16.3">，考前要减压，减轻思想压力和心理负担，使</tspan><tspan x="1907" dy="16.3">学生放下思想包袱，轻装上阵，考出水平。</tspan></text></g>
<g id="b4-k4a"><rect class="a2" x="2191" y="4975" width="264" height="76" rx="5"/><text x="2197" y="4992"><tspan>在最后阶段(约考前两周)，主要安排学生自我</tspan><tspan x="2197" dy="16.3">复习，自我完善。由学生自己阅读、消化整理</tspan><tspan x="2197" dy="16.3">知识，巩固和扩大复习成果。教师则重点加强</tspan><tspan x="2197" dy="16.3">个别辅导，查漏补缺，提高后进生。</tspan></text></g>

<!-- Branch 5 -->
<g id="b5"><rect x="746" y="5232" width="257" height="38" rx="19" fill="#8ad6ea"/><text class="dk n mid" x="874.5" y="5256">关于九年级化学下册教学计划5</text></g>
<g id="b5-l1"><rect class="a3" x="619" y="4240" width="100" height="27" rx="5"/><text x="625" y="4258">一、学情简析：</text></g>
<g id="b5-t1"><rect class="a3" x="331" y="4190" width="264" height="125" rx="5"/><text x="337" y="4207"><tspan>化学是一门基础自然科学，对初三学生来说，</tspan><tspan x="337" dy="16.3">也是一门全新的课程，是化学教育的启蒙阶。</tspan><tspan x="337" dy="16.3">因为初次接触，平时授课时应把握学科特点：</tspan><tspan x="337" dy="16.3">以实验和生活实例为切入点，充分调动学生的</tspan><tspan x="337" dy="16.3">积极性、主动性，使学生对化学便产生了浓厚</tspan><tspan x="337" dy="16.3">的兴趣。渐渐了解化学学科的特点，形成科学</tspan><tspan x="337" dy="16.3">的学习方法、学习态度。</tspan></text></g>
<g id="b5-l2"><rect class="a3" x="581" y="4671" width="138" height="27" rx="5"/><text x="587" y="4689">二、本学期的总任务：</text></g>
<g id="b5-n1"><rect class="a3" x="293" y="4344" width="264" height="60" rx="5"/><text x="299" y="4361"><tspan>1、通过第一单元的学习，认识实验室规则，</tspan><tspan x="299" dy="16.3">练习常用的化学实验基本操作，初步认识研究</tspan><tspan x="299" dy="16.3">和学习化学的方法：实验探究法。</tspan></text></g>
<g id="b5-n2"><rect class="a3" x="293" y="4434" width="264" height="43" rx="5"/><text x="299" y="4451"><tspan>2、通过空气的学习，了解空气的成份及其空</tspan><tspan x="299" dy="16.3">气污染的有关知识，树立环保意识。</tspan></text></g>
<g id="b5-n3"><rect class="a3" x="293" y="4505" width="264" height="60" rx="5"/><text x="299" y="4522"><tspan>3、通过氧气的教学，初步认识学习元素化合</tspan><tspan x="299" dy="16.3">物知识的方法，掌握氧气的性质和制法，练习</tspan><tspan x="299" dy="16.3">气体制取的基本操作。</tspan></text></g>
<g id="b5-n4"><rect class="a3" x="293" y="4594" width="264" height="43" rx="5"/><text x="299" y="4611"><tspan>4、通过水的教学，了解水的组成，水污染及</tspan><tspan x="299" dy="16.3">其防治，树立节水及环保意识。</tspan></text></g>
<g id="b5-n5"><rect class="a3" x="293" y="4666" width="264" height="60" rx="5"/><text x="299" y="4683"><tspan>5、对物质结构形成初步的认识，熟练书写化</tspan><tspan x="299" dy="16.3">学式。复习巩固物质分类、物质结构等重要内</tspan><tspan x="299" dy="16.3">容。为进一步学习化学方程式打好基础，</tspan></text></g>
<g id="b5-n6"><rect class="a3" x="293" y="4754" width="264" height="43" rx="5"/><text x="299" y="4771"><tspan>6、进一步学习化学式的写法，在此基础上学</tspan><tspan x="299" dy="16.3">习化学方程式的读法及有关计算。</tspan></text></g>
<g id="b5-n7"><rect class="a3" x="293" y="4826" width="264" height="60" rx="5"/><text x="299" y="4843"><tspan>7、通过"碳和碳和化合物"的教学，结合氧气</tspan><tspan x="299" dy="16.3">部分的学习，进一步熟悉学习元素化合物知识</tspan><tspan x="299" dy="16.3">的方法，练习化学方程式写法。</tspan></text></g>
<g id="b5-n8"><rect class="a3" x="343" y="4915" width="214" height="27" rx="5"/><text x="349" y="4933">8、联系实际，了解燃料及其利用。</text></g>
<g id="b5-n9"><rect class="a3" x="293" y="4971" width="264" height="43" rx="5"/><text x="299" y="4988"><tspan>9、结合教材着重培养学生的自学能力，养成</tspan><tspan x="299" dy="16.3">科学的学习方法结合教材，进行各种思想教育</tspan></text></g>
<g id="b5-l3"><rect class="a3" x="570" y="5654" width="149" height="29" rx="5"/><text x="576" y="5673">三、重点、难点、关键：</text></g>
<g id="b5-zd"><rect class="a3" x="494" y="5224" width="50" height="27" rx="5"/><text x="500" y="5242">重点：</text></g>
<g id="b5-z1"><rect class="a3" x="332" y="5044" width="138" height="27" rx="5"/><text x="338" y="5062">1、氧气的制法和性质</text></g>
<g id="b5-z2"><rect class="a3" x="205" y="5099" width="265" height="43" rx="5"/><text x="211" y="5116"><tspan>2、对分子、原子、离子概念的认识，对微观</tspan><tspan x="211" dy="16.3">世界的想象。</tspan></text></g>
<g id="b5-z3"><rect class="a3" x="231" y="5171" width="239" height="27" rx="5"/><text x="237" y="5189">3、学习加热、过滤、蒸发等基本操作。</text></g>
<g id="b5-z4"><rect class="a3" x="244" y="5226" width="226" height="27" rx="5"/><text x="250" y="5244">4、对化学反应及其反应类型的认识。</text></g>
<g id="b5-z5"><rect class="a3" x="332" y="5283" width="138" height="28" rx="5"/><text x="338" y="5301">5、化学方程式及计算</text></g>
<g id="b5-z6"><rect class="a3" x="231" y="5339" width="239" height="27" rx="5"/><text x="237" y="5357">6、碳和化学性质、二氧化碳性质、制法</text></g>
<g id="b5-z7"><rect class="a3" x="205" y="5395" width="265" height="43" rx="5"/><text x="211" y="5412"><tspan>7、培养学习化学的兴趣、习惯，认识探究学</tspan><tspan x="211" dy="16.3">习的方法</tspan></text></g>
<g id="b5-nd"><rect class="a3" x="494" y="5734" width="50" height="28" rx="5"/><text x="500" y="5753">难点：</text></g>
<g id="b5-d1"><rect class="a3" x="244" y="5469" width="226" height="27" rx="5"/><text x="250" y="5487">1、对空气成份探究实验的设计分析。</text></g>
<g id="b5-d2"><rect class="a3" x="294" y="5524" width="176" height="27" rx="5"/><text x="300" y="5542">2、制取气体的思路和方法。</text></g>
<g id="b5-d3"><rect class="a3" x="319" y="5579" width="151" height="27" rx="5"/><text x="325" y="5597">3、对微观世界的想象。</text></g>
<g id="b5-d4"><rect class="a3" x="319" y="5636" width="151" height="27" rx="5"/><text x="325" y="5654">4、探究实验的学习方法</text></g>
<g id="b5-d5"><rect class="a3" x="205" y="5691" width="265" height="43" rx="5"/><text x="211" y="5708"><tspan>5、物质的结构、变化、性质、用途间的相互</tspan><tspan x="211" dy="16.3">联系</tspan></text></g>
<g id="b5-d6"><rect class="a3" x="357" y="5763" width="113" height="27" rx="5"/><text x="363" y="5781">6、质量守恒定律</text></g>
<g id="b5-d7"><rect class="a3" x="244" y="5819" width="226" height="27" rx="5"/><text x="250" y="5837">7、化学式和化学方程式的书写与运用</text></g>
<g id="b5-d8"><rect class="a3" x="294" y="5874" width="176" height="27" rx="5"/><text x="300" y="5892">8、含杂质的化学方程式计算</text></g>
<g id="b5-d9"><rect class="a3" x="205" y="5931" width="265" height="43" rx="5"/><text x="211" y="5948"><tspan>9、建立系列观点：条件_结果;气体的制取思</tspan><tspan x="211" dy="16.3">路、方法等</tspan></text></g>
<g id="b5-d10"><rect class="a3" x="331" y="6002" width="139" height="27" rx="5"/><text x="337" y="6020">10、物质间的相互联系</text></g>
<g id="b5-gj"><rect class="a3" x="494" y="6087" width="50" height="28" rx="5"/><text x="500" y="6106">关键：</text></g>
<g id="b5-g1"><rect class="a3" x="332" y="6059" width="138" height="27" rx="5"/><text x="338" y="6077">1、化学式书写与运用</text></g>
<g id="b5-g2"><rect class="a3" x="294" y="6115" width="176" height="27" rx="5"/><text x="300" y="6133">2、形成研究学习物质的方法</text></g>
<g id="b5-l4"><rect class="a3" x="643" y="6236" width="76" height="27" rx="5"/><text x="649" y="6254">四、教研：</text></g>
<g id="b5-jy"><rect class="a3" x="393" y="6236" width="227" height="27" rx="5"/><text x="399" y="6254">本学期计划进行两次较大的教研活动：</text></g>
<g id="b5-e1"><rect class="a3" x="40" y="6172" width="330" height="60" rx="5"/><text x="46" y="6189"><tspan>1、第一次在开学初，组织本科教师对教学进度、</tspan><tspan x="46" dy="16.3">教学内容进行一次教研活动，以确定本学期</tspan><tspan x="46" dy="16.3">的教学计划。</tspan></text></g>
<g id="b5-e2"><rect class="a3" x="40" y="6259" width="330" height="76" rx="5"/><text x="46" y="6276"><tspan>2、各班级教学进度保持同步，平时针对教学中遇到的</tspan><tspan x="46" dy="16.3">问题，教学内容、教法、教学进度</tspan><tspan x="46" dy="16.3">、分类指导等方面不定时的加以</tspan><tspan x="46" dy="16.3">研讨。</tspan></text></g>

<!-- Branch 6 -->
<g id="b6"><rect x="1380" y="5327" width="312" height="59" rx="29" fill="#1db3d4"/><text class="dk m" x="1410" y="5351"><tspan>关于九年级化学下册教学计划相关</tspan><tspan x="1410" dy="22">文章：</tspan></text></g>
<g id="b6-items">
<text x="1722" y="5109">★ 2021年春季初中化学教学计划5篇</text>
<text x="1722" y="5165">★ 高中化学教学计划</text>
<text x="1722" y="5221">★ 化学学科教学计划2021</text>
<text x="1722" y="5277">★ 初中九年级英语下册教学计划2021</text>
<text x="1722" y="5333">★ 化学备课组教学计划2021</text>
<text x="1722" y="5389">★ 高三化学教学计划2021</text>
<text x="1722" y="5445">★ 初中语文九年级下教学计划2021</text>
<text x="1722" y="5502">★ 高二上学期化学教学计划2021</text>
<text x="1722" y="5558">★ 教学计划初中数学九年级</text>
<text x="1722" y="5614">★ 2021初中化学教师教学工作总结范文</text>
</g>
</g>
</svg>
